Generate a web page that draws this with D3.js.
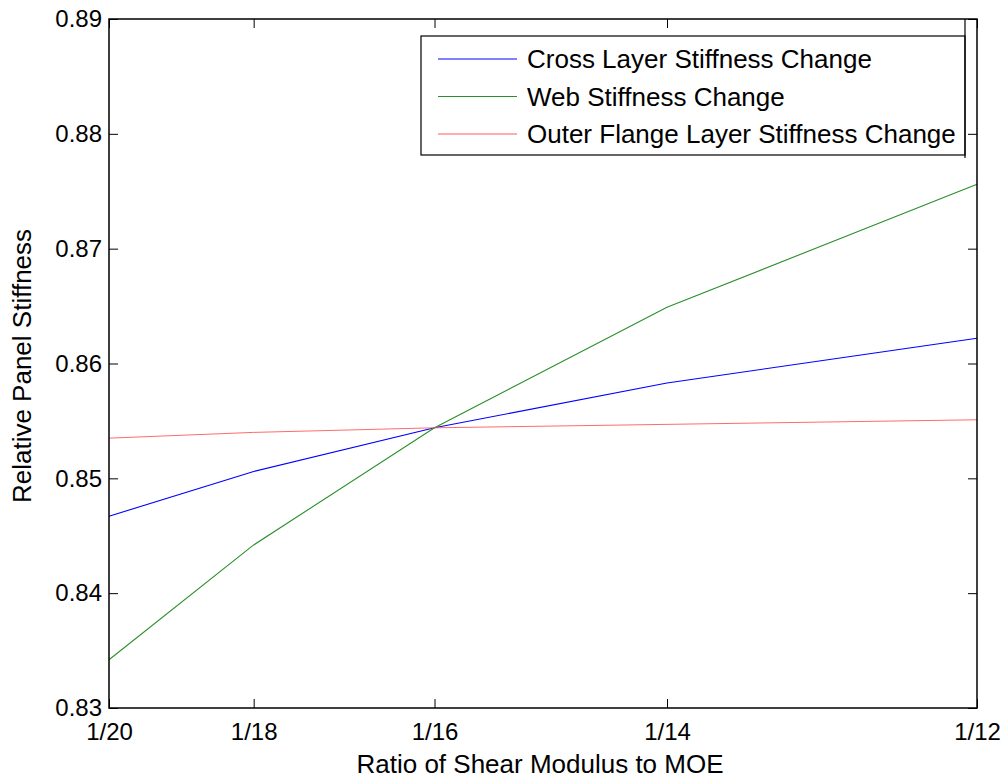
<!DOCTYPE html>
<html>
<head>
<meta charset="utf-8">
<script src="https://cdn.jsdelivr.net/npm/d3@7"></script>
<style>
  body { margin: 0; background: #fff; }
  text { font-family: "Liberation Sans", Arial, sans-serif; fill: #000; }
</style>
</head>
<body>
<div id="chart"></div>
<script>
// ratio of shear modulus to MOE (x) and tick labels
const ratios = [1/20, 1/18, 1/16, 1/14, 1/12];
const ratioLabels = ["1/20", "1/18", "1/16", "1/14", "1/12"];
const yTicks = [0.83, 0.84, 0.85, 0.86, 0.87, 0.88, 0.89];

// relative panel stiffness per series
const crossLayer = [0.8467, 0.8506, 0.8544, 0.8583, 0.8622];
const web = [0.8342, 0.8442, 0.8544, 0.8649, 0.8756];
const outerFlange = [0.8535, 0.8540, 0.8544, 0.8547, 0.8551];

const seriesNames = ["Cross Layer Stiffness Change", "Web Stiffness Change", "Outer Flange Layer Stiffness Change"];
const seriesColors = ["#0000ff", "#2a8f2a", "#ff5a5a"];

const width = 1008, height = 778;
const margin = {top: 19, right: 31, bottom: 70, left: 109};
const w = width - margin.left - margin.right;
const h = height - margin.top - margin.bottom;

const svg = d3.select("#chart").append("svg")
    .attr("width", width)
    .attr("height", height);

const g = svg.append("g")
    .attr("transform", `translate(${margin.left},${margin.top})`);

const x = d3.scaleLinear().domain([1/20, 1/12]).range([0, w]);
const y = d3.scaleLinear().domain([0.83, 0.89]).range([h, 0]);

const series = [crossLayer, web, outerFlange].map((vals, i) => ({
    name: seriesNames[i],
    color: seriesColors[i],
    points: vals.map((v, j) => ({x: ratios[j], y: v}))
}));

const line = d3.line().x(d => x(d.x)).y(d => y(d.y));

g.selectAll(".series")
    .data(series)
    .enter()
    .append("path")
    .attr("class", "series")
    .attr("d", d => line(d.points))
    .attr("fill", "none")
    .attr("stroke", d => d.color)
    .attr("stroke-width", (d, i) => i === 2 ? 0.9 : 1.1);

// axes, ticks inward on all four sides
const tickLen = 9;
const fmtY = d3.format(".2f");

const xAxis = g.append("g")
    .attr("transform", `translate(0,${h})`)
    .call(d3.axisBottom(x).tickValues(ratios).tickFormat((d, i) => ratioLabels[i])
        .tickSizeInner(-tickLen).tickSizeOuter(0).tickPadding(15));

const xTop = g.append("g")
    .call(d3.axisTop(x).tickValues(ratios).tickFormat("")
        .tickSizeInner(-tickLen).tickSizeOuter(0));

const yAxis = g.append("g")
    .call(d3.axisLeft(y).tickValues(yTicks).tickFormat(fmtY)
        .tickSizeInner(-tickLen).tickSizeOuter(0).tickPadding(7));

const yRight = g.append("g")
    .attr("transform", `translate(${w},0)`)
    .call(d3.axisRight(y).tickValues(yTicks).tickFormat("")
        .tickSizeInner(-tickLen).tickSizeOuter(0));

[xAxis, xTop, yAxis, yRight].forEach(a => {
    a.select(".domain").remove();
    a.selectAll("line").attr("stroke", "#000").attr("stroke-width", 1);
    a.selectAll("text").style("font-size", "24px").style("font-family", "Liberation Sans, Arial, sans-serif").attr("fill", "#000");
});

g.append("rect")
    .attr("width", w)
    .attr("height", h)
    .attr("fill", "none")
    .attr("stroke", "#000")
    .attr("stroke-width", 1.5);

// axis titles
svg.append("text")
    .attr("x", 540)
    .attr("y", 773)
    .attr("text-anchor", "middle")
    .style("font-size", "26px")
    .text("Ratio of Shear Modulus to MOE");

svg.append("text")
    .attr("transform", "translate(31,366) rotate(-90)")
    .attr("text-anchor", "middle")
    .style("font-size", "26px")
    .text("Relative Panel Stiffness");

// legend
const legend = svg.append("g")
    .attr("transform", "translate(421,36)");

legend.append("rect")
    .attr("width", 544)
    .attr("height", 119)
    .attr("fill", "#fff")
    .attr("stroke", "#000")
    .attr("stroke-width", 1.2);

legend.append("line")
    .attr("x1", 544).attr("x2", 544)
    .attr("y1", margin.top - 36).attr("y2", 122)
    .attr("stroke", "#000")
    .attr("stroke-width", 1.2);

const items = legend.selectAll(".legend-item")
    .data(series)
    .enter()
    .append("g")
    .attr("class", "legend-item")
    .attr("transform", (d, i) => `translate(0,${23 + i * 37.5})`);

items.append("line")
    .attr("x1", 17).attr("x2", 96)
    .attr("stroke", d => d.color)
    .attr("stroke-width", 1);

items.append("text")
    .attr("x", 106)
    .attr("dy", "0.35em")
    .style("font-size", "26px")
    .text(d => d.name);
</script>
</body>
</html>
